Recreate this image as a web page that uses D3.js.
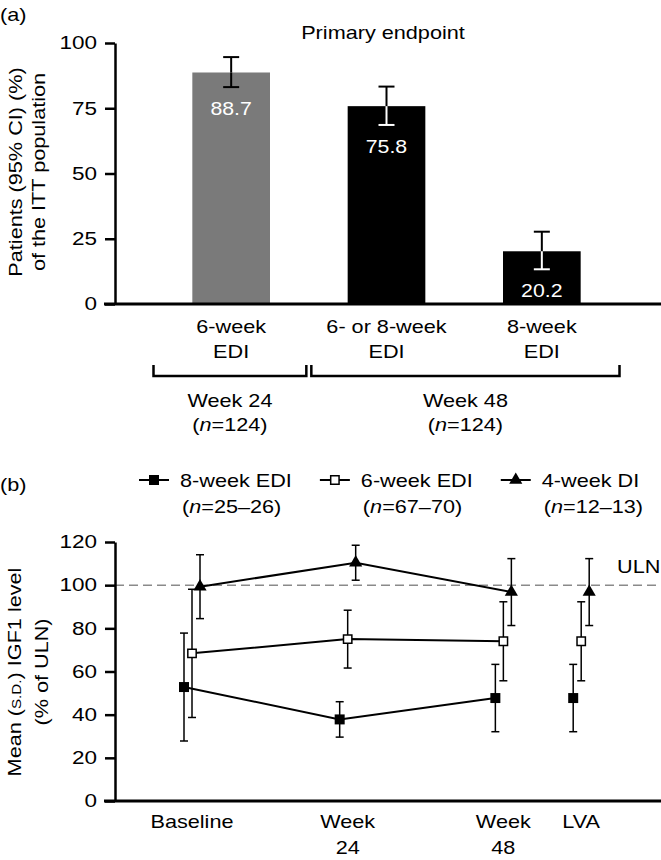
<!DOCTYPE html>
<html>
<head>
<meta charset="utf-8">
<script src="https://cdn.jsdelivr.net/npm/d3@7"></script>
<style>
  body { margin: 0; background: #fff; }
  text { font-family: "Liberation Sans", Arial, sans-serif; }
</style>
</head>
<body>
<div id="chart"></div>
<script>
// ---- panel (a): primary endpoint ----
const barCats = ['6-week EDI', '6- or 8-week EDI', '8-week EDI']
const barLines = [['6-week', 'EDI'], ['6- or 8-week', 'EDI'], ['8-week', 'EDI']]
const barValues = [88.7, 75.8, 20.2]
const barLow = [83.1, 68.6, 13.3]
const barHigh = [94.6, 83.3, 27.7]
const barColors = ['#7a7a7a', '#000', '#000']
const barTicks = [0, 25, 50, 75, 100]
const groupLabels = ['Week 24', 'Week 48']
const groupN = ['124', '124']
const groupSpans = [[0, 0], [1, 2]]

// ---- panel (b): IGF1 over time ----
const visits = ['Baseline', 'Week 24', 'Week 48', 'LVA']
const visitLines = [['Baseline'], ['Week', '24'], ['Week', '48'], ['LVA']]
const seriesNames = ['8-week EDI', '6-week EDI', '4-week DI']
const seriesN = ['25–26', '67–70', '12–13']
const edi8Mean = [52.8, 37.8, 47.7, 47.7]
const edi8Sd = [25.0, 8.2, 15.6, 15.6]
const edi6Mean = [68.4, 75.0, 74.0, 74.0]
const edi6Sd = [29.7, 13.4, 18.3, 18.3]
const di4Mean = [99.3, 110.4, 96.8, 96.8]
const di4Sd = [14.8, 8.1, 15.5, 15.5]
const igfTicks = [0, 20, 40, 60, 80, 100, 120]
const uln = 100

const W = 661, H = 860
const FS = 18.5
const K = 1.17 // original glyphs are wider than Arial
const svg = d3.select('#chart').append('svg').attr('width', W).attr('height', H)

function widen(sel, k) {
  sel.each(function() {
    const len = this.getComputedTextLength()
    d3.select(this).attr('textLength', len * (k || K)).attr('lengthAdjust', 'spacingAndGlyphs')
  })
  return sel
}

function label(parent, x, y, str, size, anchor) {
  return parent.append('text')
    .attr('x', x).attr('y', y)
    .attr('font-size', size || FS)
    .attr('text-anchor', anchor || 'middle')
    .style('fill', '#000')
    .text(str)
}

// "(n=...)" with italic n
function nLabel(parent, x, y, n, anchor) {
  const t = parent.append('text')
    .attr('x', x).attr('y', y)
    .attr('font-size', FS)
    .attr('text-anchor', anchor || 'middle')
  t.append('tspan').text('(')
  t.append('tspan').attr('font-style', 'italic').text('n')
  t.append('tspan').text('=' + n + ')')
  return t
}

// ================= panel (a) =================
const gA = svg.append('g')
const yA = d3.scaleLinear().domain([0, 100]).range([304, 43])
const xA = d3.scaleBand().domain(barCats).range([153.5, 619.5])
  .paddingInner(0.5).paddingOuter(0.25)

widen(label(gA, 0, 21, '(a)', FS, 'start'))
widen(label(gA, 383, 39, 'Primary endpoint'))

// bars
gA.selectAll('rect.bar').data(barCats).enter().append('rect')
  .attr('class', 'bar')
  .attr('x', d => xA(d))
  .attr('y', (d, i) => yA(barValues[i]))
  .attr('width', xA.bandwidth())
  .attr('height', (d, i) => yA(0) - yA(barValues[i]))
  .attr('fill', (d, i) => barColors[i])

// CI whiskers: black above the bar, white inside the dark bars
barCats.forEach((d, i) => {
  const cx = xA(d) + xA.bandwidth() / 2
  const inner = i === 0 ? '#000' : '#fff'
  const segs = [
    [yA(barValues[i]), yA(barHigh[i]), '#000'],
    [yA(barValues[i]), yA(barLow[i]), inner]
  ]
  segs.forEach(s => {
    gA.append('line').attr('x1', cx).attr('x2', cx).attr('y1', s[0]).attr('y2', s[1])
      .attr('stroke', s[2]).attr('stroke-width', 2)
    gA.append('line').attr('x1', cx - 8).attr('x2', cx + 8).attr('y1', s[1]).attr('y2', s[1])
      .attr('stroke', s[2]).attr('stroke-width', 2)
  })
  widen(label(gA, cx, yA(barLow[i]) + 28, barValues[i].toFixed(1)).style('fill', '#fff'), 1.15)
})

// axes
const axA = gA.append('g').attr('transform', 'translate(115,0)')
  .call(d3.axisLeft(yA).tickValues(barTicks).tickSize(10).tickSizeOuter(0).tickPadding(8))
axA.select('.domain').attr('stroke-width', 2.5)
axA.selectAll('.tick line').attr('stroke-width', 2.5)
axA.selectAll('.tick text').attr('font-size', 18).attr('font-family', null)
widen(axA.selectAll('.tick text'), 1.25)
gA.append('line').attr('x1', 104).attr('x2', W).attr('y1', yA(0)).attr('y2', yA(0))
  .attr('stroke', '#000').attr('stroke-width', 3)

// y label
const ylA = gA.append('g').attr('transform', 'translate(0,172) rotate(-90)')
widen(label(ylA, 0, 22, 'Patients (95% CI) (%)'))
widen(label(ylA, 0, 45, 'of the ITT population'))

// category labels
barCats.forEach((d, i) => {
  const cx = xA(d) + xA.bandwidth() / 2
  barLines[i].forEach((ln, j) => widen(label(gA, cx, 333 + j * 25, ln)))
})

// brackets
const gapHalf = (xA.step() - xA.bandwidth()) / 2
groupLabels.forEach((g, k) => {
  const [a, b] = groupSpans[k]
  const x0 = xA(barCats[a]) - gapHalf + (a > 0 ? 2.5 : 0)
  const x1 = xA(barCats[b]) + xA.bandwidth() + gapHalf - (b < barCats.length - 1 ? 2.5 : 0)
  gA.append('path')
    .attr('d', `M${x0},365 V376 H${x1} V365`)
    .attr('fill', 'none').attr('stroke', '#000').attr('stroke-width', 2.5)
  const cx = (x0 + x1) / 2
  widen(label(gA, cx, 407, g))
  widen(nLabel(gA, cx, 431, groupN[k]))
})

// ================= panel (b) =================
const gB = svg.append('g')
const yB = d3.scaleLinear().domain([0, 120]).range([801, 542])
// LVA sits half a step after Week 48, so spacer slots are used
const slots = ['Baseline', '_s1', 'Week 24', '_s2', 'Week 48', 'LVA']
const xB = d3.scalePoint().domain(slots).range([192, 581.2])
const dodge = d3.scalePoint().domain(seriesNames).range([-8, 8])

const series = [
  { name: seriesNames[0], mean: edi8Mean, sd: edi8Sd, shape: d3.symbolSquare, size: 100, fill: '#000' },
  { name: seriesNames[1], mean: edi6Mean, sd: edi6Sd, shape: d3.symbolSquare, size: 70, fill: '#fff' },
  { name: seriesNames[2], mean: di4Mean, sd: di4Sd, shape: d3.symbolTriangle, size: 75, fill: '#000' }
]

widen(label(gB, 0, 491, '(b)', FS, 'start'))

// legend (flow layout)
let lx = 139
series.forEach((s, i) => {
  const lg = gB.append('g')
  lg.append('line').attr('x1', lx).attr('x2', lx + 30).attr('y1', 480).attr('y2', 480)
    .attr('stroke', '#000').attr('stroke-width', 2)
  lg.append('path').attr('d', d3.symbol(s.shape, s.size)())
    .attr('transform', `translate(${lx + 15},480)`)
    .attr('fill', s.fill).attr('stroke', '#000').attr('stroke-width', s.fill === '#fff' ? 1.5 : 0)
  const t = widen(label(lg, lx + 41, 487, s.name, FS, 'start'))
  widen(nLabel(lg, lx + 43, 513, seriesN[i], 'start'))
  lx = lx + 41 + (+t.attr('textLength')) + 28
})

// ULN reference
gB.append('line').attr('x1', 115).attr('x2', W).attr('y1', yB(uln)).attr('y2', yB(uln))
  .attr('stroke', '#8a8a8a').attr('stroke-width', 1.5).attr('stroke-dasharray', '9,5')
widen(label(gB, 617, 573, 'ULN', FS, 'start'))

// lines (Baseline..Week 48 only)
const connected = visits.slice(0, 3)
series.forEach(s => {
  const line = d3.line()
    .x(v => xB(v) + dodge(s.name))
    .y(v => yB(s.mean[visits.indexOf(v)]))
  gB.append('path').datum(connected).attr('d', line)
    .attr('fill', 'none').attr('stroke', '#000').attr('stroke-width', 2)
})

// error bars
series.forEach(s => {
  visits.forEach((v, i) => {
    const cx = xB(v) + dodge(s.name)
    const hi = yB(s.mean[i] + s.sd[i]), lo = yB(s.mean[i] - s.sd[i])
    gB.append('line').attr('x1', cx).attr('x2', cx).attr('y1', hi).attr('y2', lo)
      .attr('stroke', '#000').attr('stroke-width', 1.5)
    ;[hi, lo].forEach(yy => gB.append('line')
      .attr('x1', cx - 4).attr('x2', cx + 4).attr('y1', yy).attr('y2', yy)
      .attr('stroke', '#000').attr('stroke-width', 1.5))
  })
})

// markers
series.forEach(s => {
  gB.selectAll(null).data(visits).enter().append('path')
    .attr('d', d3.symbol(s.shape, s.size)())
    .attr('transform', (v, i) => `translate(${xB(v) + dodge(s.name)},${yB(s.mean[i])})`)
    .attr('fill', s.fill).attr('stroke', '#000').attr('stroke-width', s.fill === '#fff' ? 1.5 : 0)
})

// axes
const axB = gB.append('g').attr('transform', 'translate(115,0)')
  .call(d3.axisLeft(yB).tickValues(igfTicks).tickSize(10).tickSizeOuter(0).tickPadding(8))
axB.select('.domain').attr('stroke-width', 2.5)
axB.selectAll('.tick line').attr('stroke-width', 2.5)
axB.selectAll('.tick text').attr('font-size', 18).attr('font-family', null)
widen(axB.selectAll('.tick text'), 1.25)
gB.append('line').attr('x1', 104).attr('x2', W).attr('y1', yB(0)).attr('y2', yB(0))
  .attr('stroke', '#000').attr('stroke-width', 3)

visits.forEach((v, i) => {
  visitLines[i].forEach((ln, j) => widen(label(gB, xB(v), 828 + j * 26, ln)))
})

// y label with small-caps S.D.
const ylB = gB.append('g').attr('transform', 'translate(0,672) rotate(-90)')
const t1 = ylB.append('text').attr('x', 0).attr('y', 21).attr('font-size', FS).attr('text-anchor', 'middle')
t1.append('tspan').text('Mean (')
t1.append('tspan').attr('font-size', 13).text('S.D.')
t1.append('tspan').text(') IGF1 level')
widen(t1)
widen(label(ylB, 0, 48, '(% of ULN)'))
</script>
</body>
</html>
